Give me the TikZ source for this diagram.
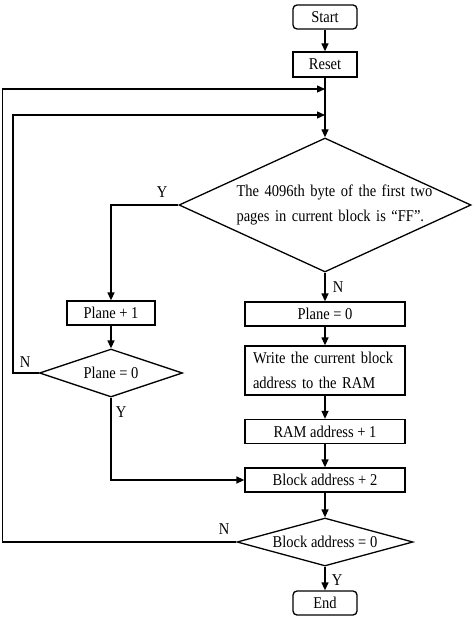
\documentclass[tikz,border=0pt]{standalone}
\usepackage{fontspec}
\setmainfont{Liberation Serif}[FakeStretch=0.88]
\usetikzlibrary{shapes.geometric,arrows.meta}
\begin{document}
\begin{tikzpicture}[x=1pt,y=-1pt,
  every node/.style={font=\fontsize{16.5}{25}\selectfont},
  base/.style={draw, line width=1.3pt, inner sep=0pt},
  proc/.style={base, rectangle, minimum width=160pt, minimum height=24pt},
  term/.style={base, rectangle, rounded corners=4pt, minimum width=64pt, minimum height=24pt},
  dec/.style={base, diamond},
  arr/.style={line width=1.3pt, -{Triangle[length=8pt,width=7pt]}},
  ln/.style={line width=1.3pt},
  lbl/.style={inner sep=0pt}
]
\useasboundingbox (0,0) rectangle (474,620);

\node[term] (start) at (325,17) {Start};
\node[proc, minimum width=64pt, minimum height=25pt] (reset) at (325,64.5) {Reset};
\node[dec, aspect=2.18, minimum width=292pt, minimum height=134pt] (d1) at (325,205) {};
\node[lbl, text width=195pt, align=left] (t1) at (334,205)
  {\makebox[195pt][s]{The 4096th byte of the first two}\\pages in current block is “FF”.};
\node[proc, minimum width=88pt] (p1) at (111,313) {Plane + 1};
\node[dec, aspect=3, minimum width=143pt, minimum height=48pt] (d2) at (111,373) {Plane = 0};
\node[proc] (p0) at (325,314) {Plane = 0};
\node[proc, minimum height=49pt, text width=144pt, align=left] (w) at (325,370.5)
  {\makebox[144pt][s]{Write the current block}\\address to the RAM};
\node[proc] (ram) at (325,431.5) {RAM address + 1};
\node[proc] (b2) at (325,480) {Block address + 2};
\node[dec, aspect=3.67, minimum width=176pt, minimum height=48pt] (d4) at (325,542) {Block address = 0};
\node[term] (end) at (325,603) {End};

\coordinate (j1) at (325,89);
\coordinate (j2) at (325,115);

\draw[arr] (start) -- (reset);
\draw[arr] (reset) -- (d1.north);
\draw[arr] (d4.west) -- ++(-234,0) |- (j1);
\draw[arr] (d2.west) -- ++(-26,0) |- (j2);
\draw[arr] (d1.west) -| (p1.north);
\draw[arr] (p1) -- (d2);
\draw[arr] (d2.south) |- (b2.west);
\draw[arr] (d1.south) -- (p0.north);
\draw[arr] (p0) -- (w);
\draw[arr] (w) -- (ram);
\draw[arr] (ram) -- (b2);
\draw[arr] (b2) -- (d4);
\draw[arr] (d4) -- (end);

\node[lbl] (ly1) at (162,192) {Y};
\node[lbl] (ln1) at (338,287) {N};
\node[lbl] (ln2) at (25,362) {N};
\node[lbl] (ly2) at (121,412) {Y};
\node[lbl] (ln3) at (224,529) {N};
\node[lbl] (ly3) at (337,580) {Y};
\end{tikzpicture}
\end{document}
